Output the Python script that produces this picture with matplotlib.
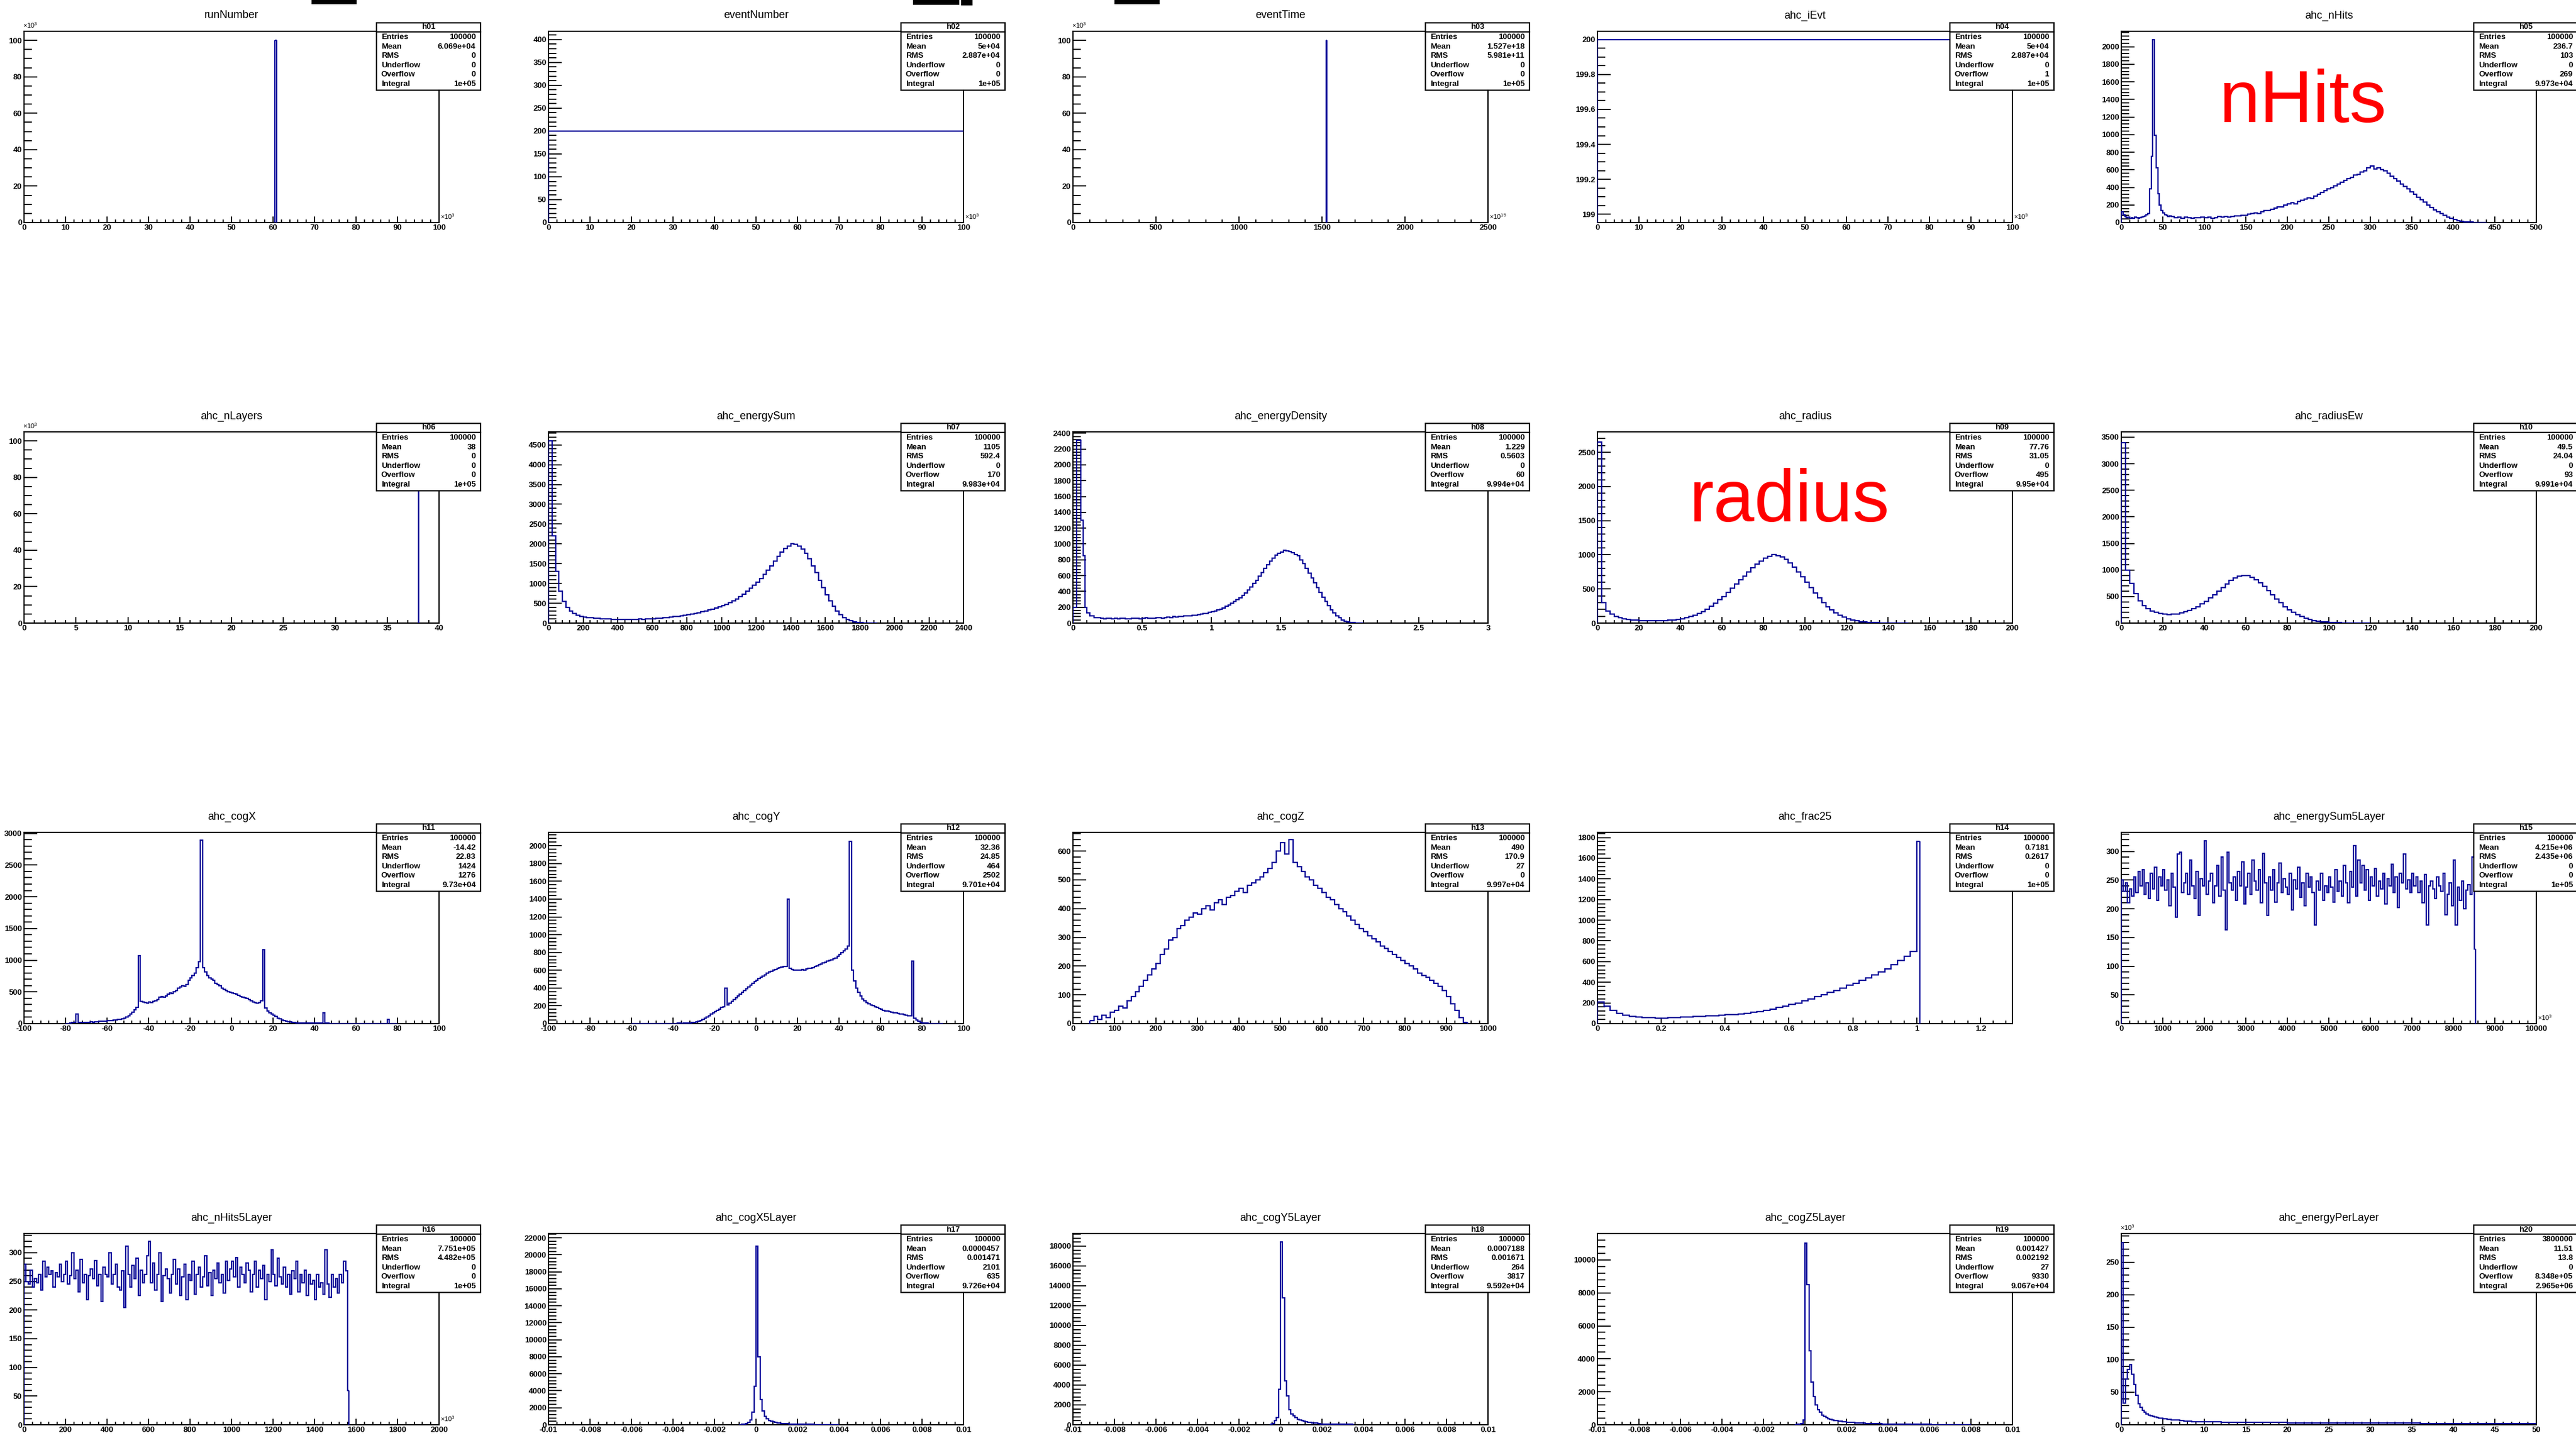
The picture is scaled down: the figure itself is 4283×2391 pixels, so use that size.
import numpy as np
import matplotlib
matplotlib.use("Agg")
import matplotlib.pyplot as plt
from matplotlib.patches import Rectangle
from matplotlib.lines import Line2D
from matplotlib.ticker import MultipleLocator, FuncFormatter

plt.rcParams['font.family'] = ['Liberation Sans', 'DejaVu Sans']
plt.rcParams['mathtext.fontset'] = 'custom'
plt.rcParams['mathtext.rm'] = 'Liberation Sans'
plt.rcParams['mathtext.it'] = 'Liberation Sans:italic'

# ======================= DATA =======================
titles = ["runNumber", "eventNumber", "eventTime", "ahc_iEvt", "ahc_nHits",
          "ahc_nLayers", "ahc_energySum", "ahc_energyDensity", "ahc_radius", "ahc_radiusEw",
          "ahc_cogX", "ahc_cogY", "ahc_cogZ", "ahc_frac25", "ahc_energySum5Layer",
          "ahc_nHits5Layer", "ahc_cogX5Layer", "ahc_cogY5Layer", "ahc_cogZ5Layer", "ahc_energyPerLayer"]
hnames = ["h01", "h02", "h03", "h04", "h05", "h06", "h07", "h08", "h09", "h10",
          "h11", "h12", "h13", "h14", "h15", "h16", "h17", "h18", "h19", "h20"]
stat_labels = ["Entries", "Mean", "RMS", "Underflow", "Overflow", "Integral"]
stats = [
    ["100000", "6.069e+04", "0", "0", "0", "1e+05"],
    ["100000", "5e+04", "2.887e+04", "0", "0", "1e+05"],
    ["100000", "1.527e+18", "5.981e+11", "0", "0", "1e+05"],
    ["100000", "5e+04", "2.887e+04", "0", "1", "1e+05"],
    ["100000", "236.7", "103", "0", "269", "9.973e+04"],
    ["100000", "38", "0", "0", "0", "1e+05"],
    ["100000", "1105", "592.4", "0", "170", "9.983e+04"],
    ["100000", "1.229", "0.5603", "0", "60", "9.994e+04"],
    ["100000", "77.76", "31.05", "0", "495", "9.95e+04"],
    ["100000", "49.5", "24.04", "0", "93", "9.991e+04"],
    ["100000", "-14.42", "22.83", "1424", "1276", "9.73e+04"],
    ["100000", "32.36", "24.85", "464", "2502", "9.701e+04"],
    ["100000", "490", "170.9", "27", "0", "9.997e+04"],
    ["100000", "0.7181", "0.2617", "0", "0", "1e+05"],
    ["100000", "4.215e+06", "2.435e+06", "0", "0", "1e+05"],
    ["100000", "7.751e+05", "4.482e+05", "0", "0", "1e+05"],
    ["100000", "0.0000457", "0.001471", "2101", "635", "9.726e+04"],
    ["100000", "0.0007188", "0.001671", "264", "3817", "9.592e+04"],
    ["100000", "0.001427", "0.002192", "27", "9330", "9.067e+04"],
    ["3800000", "11.51", "13.8", "0", "8.348e+05", "2.965e+06"],
]

# --- h01 runNumber (x in 1e3, y in 1e3)
run_edges = [60.5, 60.8]
run_counts = [100]
# --- h02 eventNumber
evn_edges = [0, 100]
evn_counts = [200]
# --- h03 eventTime (x in 1e15, y in 1e3)
evt_edges = [1526, 1528]
evt_counts = [100]
# --- h04 ahc_iEvt
iev_edges = [0, 100]
iev_counts = [200]
# --- h05 ahc_nHits
nhits_edges = np.concatenate([np.arange(0, 60, 2), np.arange(60, 441, 4)])
nhits_counts = [120, 90, 70, 55, 60, 50, 58, 45, 60, 52, 48, 55, 62, 70, 78, 90, 100, 380, 750, 2080,
                990, 620, 330, 200, 140, 110, 90, 80, 70, 75,
                65, 55, 60, 48, 62, 55, 50, 58, 52, 60,
                55, 62, 50, 58, 65, 60, 70, 62, 68, 75,
                72, 85, 80, 95, 100, 110, 105, 125, 140, 135,
                150, 165, 175, 180, 200, 210, 225, 215, 240, 255,
                270, 280, 275, 300, 320, 345, 360, 380, 400, 420,
                440, 460, 480, 500, 510, 540, 550, 575, 590, 620,
                640, 610, 625, 600, 590, 560, 530, 500, 470, 440,
                410, 380, 350, 320, 290, 260, 230, 200, 170, 145,
                120, 100, 80, 60, 45, 32, 22, 15, 10, 6,
                4, 3, 2, 1, 0]
# --- h06 ahc_nLayers (y in 1e3)
nlay_edges = [38.0, 38.04]
nlay_counts = [100]
# --- h07 ahc_energySum
esum_edges = np.arange(0, 1901, 20)
esum_counts = [4600, 2200, 1300, 800, 550, 400, 300, 250, 200, 170,
               150, 140, 130, 120, 115, 110, 105, 100, 98, 95,
               92, 90, 95, 88, 92, 95, 100, 98, 105, 110,
               112, 118, 125, 130, 140, 150, 160, 170, 185, 200,
               215, 230, 250, 265, 285, 305, 330, 355, 380, 410,
               440, 475, 510, 560, 610, 670, 730, 800, 880, 960,
               1040, 1130, 1230, 1340, 1450, 1560, 1680, 1790, 1880, 1950,
               2000, 1990, 1950, 1870, 1760, 1620, 1450, 1270, 1080, 900,
               720, 560, 420, 300, 210, 140, 90, 55, 30, 15,
               8, 4, 2, 1, 0]
# --- h08 ahc_energyDensity
eden_edges = np.concatenate([[0, 0.025, 0.055, 0.075, 0.085, 0.1, 0.12, 0.15, 0.2],
                             np.round(np.arange(0.22, 2.1001, 0.02), 3)])
eden_counts = [200, 2310, 1300, 850, 200, 130, 90, 70,
               60, 55, 58, 62, 55, 60, 52, 58, 63, 57, 55, 60, 58, 62, 56, 60, 65, 58, 62, 60,
               65, 70, 62, 72, 75, 70, 80, 78, 85, 82, 90, 88, 95, 100, 98, 110, 115, 120, 125, 135,
               145, 155, 165, 175, 190, 210, 230, 250, 270, 300, 320, 350, 380, 420, 460, 500, 540, 590, 640, 690,
               740, 780, 820, 860, 880, 900, 920, 910, 905, 890, 870, 850, 800, 750, 690, 630, 570, 510, 450, 390,
               330, 270, 220, 170, 130, 95, 65, 40, 25, 15, 8, 4, 2, 1, 0]
# --- h09 ahc_radius
rad_edges = np.arange(0, 151, 2)
rad_counts = [2650, 300, 180, 130, 100, 80, 65, 55, 48, 42,
              38, 35, 33, 32, 32, 34, 36, 40, 46, 55,
              65, 80, 95, 115, 140, 170, 205, 245, 290, 340,
              390, 450, 510, 570, 630, 690, 750, 810, 860, 910,
              950, 980, 1000, 990, 970, 930, 880, 820, 750, 680,
              600, 520, 440, 370, 300, 240, 190, 150, 115, 85,
              62, 45, 32, 22, 15, 10, 7, 5, 3, 2,
              1, 1, 0, 0, 0]
# --- h10 ahc_radiusEw
radw_edges = np.arange(0, 121, 2)
radw_counts = [3400, 1000, 750, 550, 420, 330, 270, 230, 200, 180,
               165, 160, 165, 175, 190, 210, 240, 270, 310, 360,
               410, 470, 530, 600, 670, 740, 800, 850, 880, 900,
               890, 860, 820, 760, 690, 610, 530, 450, 380, 310,
               250, 200, 155, 120, 90, 65, 48, 35, 25, 18,
               12, 8, 6, 4, 3, 2, 1, 1, 0, 0]
# --- h11 ahc_cogX
cogx_edges = np.arange(-80, 81, 1)
cogx_counts = [0, 0, 5, 15, 18, 150, 20, 18, 20, 22,
               22, 20, 25, 20, 24, 30, 35, 40, 38, 42,
               45, 48, 50, 55, 60, 62, 70, 80, 85, 100,
               120, 150, 180, 220, 260, 1070, 350, 340, 330, 320,
               340, 330, 350, 360, 380, 420, 430, 420, 440, 460,
               480, 470, 500, 520, 560, 580, 600, 590, 620, 680,
               720, 760, 800, 880, 980, 2890, 880, 820, 760, 720,
               700, 680, 640, 620, 600, 560, 540, 520, 500, 490,
               480, 470, 460, 450, 430, 420, 410, 400, 380, 360,
               340, 330, 320, 330, 360, 1170, 250, 200, 170, 150,
               130, 110, 90, 75, 60, 50, 40, 30, 25, 20,
               15, 12, 10, 10, 8, 8, 8, 7, 7, 6,
               6, 5, 5, 5, 170, 5, 5, 4, 3, 0,
               0, 0, 0, 0, 0, 0, 0, 0, 0, 0,
               0, 0, 0, 0, 0, 0, 0, 0, 0, 0,
               0, 0, 0, 0, 0, 70, 0, 0, 0, 0]
# --- h12 ahc_cogY
cogy_edges = np.arange(-60, 91, 1)
cogy_counts = [0, 0, 0, 0, 0, 0, 0, 0, 0, 0,
               0, 0, 2, 0, 0, 3, 0, 0, 2, 0,
               3, 0, 4, 5, 3, 6, 5, 8, 10, 12,
               15, 20, 25, 35, 45, 60, 75, 90, 105, 120,
               135, 150, 165, 180, 190, 400, 210, 230, 250, 270,
               290, 310, 330, 350, 370, 390, 410, 430, 450, 470,
               490, 505, 520, 535, 550, 565, 580, 590, 600, 610,
               620, 630, 635, 640, 645, 1400, 620, 610, 600, 600,
               600, 605, 610, 600, 615, 620, 625, 630, 640, 650,
               660, 670, 680, 690, 700, 710, 720, 730, 740, 760,
               780, 800, 820, 840, 870, 2050, 600, 480, 400, 350,
               310, 280, 260, 240, 225, 210, 200, 190, 180, 170,
               160, 150, 145, 140, 135, 130, 125, 120, 115, 110,
               105, 100, 95, 90, 85, 700, 60, 40, 25, 15,
               10, 6, 4, 3, 2, 1, 1, 0, 0, 0]
# --- h13 ahc_cogZ
cogz_edges = np.arange(40, 951, 10)
cogz_counts = [10, 25, 15, 30, 20, 40,
               45, 60, 55, 80, 95, 110, 130, 150, 170, 190,
               210, 240, 260, 290, 300, 330, 340, 360, 370, 385,
               380, 400, 410, 395, 420, 430, 415, 440, 445, 460,
               470, 455, 480, 490, 500, 510, 525, 540, 560, 600,
               630, 590, 640, 560, 545, 530, 510, 500, 480, 470,
               455, 440, 430, 415, 400, 390, 375, 360, 345, 330,
               320, 305, 295, 285, 270, 262, 250, 240, 230, 220,
               210, 200, 190, 175, 168, 160, 150, 140, 130, 115,
               95, 70, 45, 20, 5]
# --- h14 ahc_frac25
frac_edges = np.concatenate([np.round(np.arange(0, 1.0001, 0.02), 3), [1.01]])
frac_counts = [210, 170, 130, 100, 80, 70, 65, 60, 58, 55,
               55, 58, 60, 62, 65, 68, 70, 75, 78, 82,
               85, 90, 95, 100, 110, 118, 130, 140, 155, 170,
               185, 200, 220, 240, 260, 280, 300, 320, 345, 370,
               390, 420, 440, 470, 500, 530, 570, 610, 650, 700,
               1760]
# --- h15 ahc_energySum5Layer (x in 1e3)
es5_edges = np.concatenate([np.arange(0, 8501, 50), [8540]])
es5_counts = [250, 230, 245, 210, 235, 222, 255, 228, 265, 240,
              268, 225, 245, 218, 262, 235, 272, 215, 255, 240,
              268, 232, 250, 205, 262, 238, 185, 295, 298, 228,
              245, 262, 225, 285, 240, 218, 265, 188, 252, 240,
              318, 225, 248, 262, 210, 240, 275, 222, 290, 232,
              163, 298, 245, 232, 255, 215, 265, 240, 282, 208,
              238, 262, 225, 285, 248, 232, 268, 210, 296, 245,
              188, 255, 232, 268, 212, 245, 280, 228, 252, 238,
              225, 262, 198, 250, 235, 272, 220, 245, 205, 262,
              238, 255, 228, 172, 248, 232, 262, 215, 240, 228,
              255, 238, 212, 268, 230, 248, 222, 275, 245, 210,
              265, 238, 310, 222, 285, 245, 275, 232, 268, 215,
              255, 240, 270, 222, 248, 235, 262, 208, 252, 240,
              278, 228, 255, 202, 262, 245, 295, 235, 250, 228,
              262, 240, 255, 228, 248, 210, 260, 172, 240, 248,
              235, 218, 255, 240, 230, 262, 190, 225, 245, 205,
              285, 172, 238, 215, 248, 200, 232, 242, 225, 290,
              130]
# --- h16 ahc_nHits5Layer (x in 1e3)
nh5_edges = np.concatenate([np.arange(0, 1561, 10), [1566]])
nh5_counts = [280, 250, 245, 270, 240, 255, 248, 262, 235, 285,
              258, 275, 262, 268, 240, 265, 258, 280, 250, 262,
              285, 245, 260, 300, 255, 270, 232, 288, 248, 262,
              218, 260, 272, 255, 286, 242, 262, 215, 275, 262,
              258, 300, 245, 262, 280, 240, 235, 268, 205, 312,
              262, 240, 278, 255, 290, 225, 270, 248, 262, 295,
              320, 248, 282, 235, 262, 300, 215, 260, 272, 255,
              230, 262, 288, 245, 272, 226, 258, 280, 218, 262,
              252, 285, 228, 262, 275, 240, 258, 295, 242, 265,
              226, 270, 255, 282, 248, 262, 230, 285, 252, 272,
              285, 258, 292, 240, 275, 262, 248, 282, 270, 232,
              262, 285, 240, 270, 255, 278, 218, 262, 250, 305,
              262, 242, 290, 258, 245, 275, 240, 262, 228, 268,
              255, 285, 232, 262, 248, 270, 226, 262, 245, 252,
              218, 262, 240, 248, 228, 305, 245, 222, 262, 240,
              255, 230, 262, 248, 285, 268,
              60]
# --- h17 ahc_cogX5Layer
cx5_edges = np.round(np.arange(-8, 41) * 1e-4, 6)
cx5_counts = [20, 40, 80, 150, 300, 600, 1500, 4500,
              21000, 8000, 3000, 1600, 1000, 700, 500, 400, 320, 260,
              220, 190, 160, 140, 120, 110, 100, 90, 80, 75,
              70, 65, 60, 55, 50, 45, 40, 38, 35, 32,
              30, 28, 25, 22, 20, 18, 15, 12, 10, 8]
# --- h18 ahc_cogY5Layer
cy5_edges = np.round(np.arange(-5, 36) * 1e-4, 6)
cy5_counts = [50, 150, 400, 700, 3600,
              18400, 12800, 4400, 2900, 1500, 1100, 900, 700, 550, 500,
              450, 350, 280, 250, 220, 200, 180, 160, 100, 80,
              70, 70, 65, 65, 60, 60, 60, 55, 55, 55,
              50, 50, 50, 45, 45]
# --- h19 ahc_cogZ5Layer
cz5_edges = np.round(np.arange(-5, 81) * 1e-4, 6)
cz5_counts = [10, 20, 40, 80, 300,
              11000, 8500, 4500, 2600, 1700, 1200, 900, 750, 600, 500,
              420, 380, 340, 300, 270, 250, 230, 210, 190, 170,
              160, 150, 140, 130, 120, 112, 105, 98, 92, 86,
              80, 75, 70, 66, 62, 58, 55, 52, 49, 46,
              44, 42, 40, 38, 36, 34, 33, 32, 31, 30,
              29, 28, 27, 26, 25, 24, 23, 22, 21, 20,
              19, 18, 17, 16, 15, 15, 14, 14, 13, 13,
              12, 12, 11, 11, 10, 10, 9, 9, 8, 8]
# --- h20 ahc_energyPerLayer (y in 1e3)
epl_edges = np.concatenate([np.arange(0, 5.01, 0.25), np.arange(5.5, 10.01, 0.5), np.arange(11, 50.5, 1)])
epl_counts = [280, 33, 70, 85, 92, 78, 62, 45, 32, 27, 22, 19, 17, 15, 14, 13, 12, 11, 10.5, 10,
              9, 8.5, 7.5, 7, 6.5, 6, 5.5, 5, 4.8, 4.6,
              4.4, 4.2, 4.0, 3.9, 3.8, 3.7, 3.6, 3.5, 3.4, 3.3,
              3.2, 3.1, 3.0, 2.95, 2.9, 2.85, 2.8, 2.75, 2.7, 2.65,
              2.6, 2.55, 2.5, 2.45, 2.4, 2.35, 2.3, 2.25, 2.2, 2.15,
              2.1, 2.05, 2.0, 1.95, 1.9, 1.85, 1.8, 1.75, 1.7, 1.65]

hist_edges = [run_edges, evn_edges, evt_edges, iev_edges, nhits_edges,
              nlay_edges, esum_edges, eden_edges, rad_edges, radw_edges,
              cogx_edges, cogy_edges, cogz_edges, frac_edges, es5_edges,
              nh5_edges, cx5_edges, cy5_edges, cz5_edges, epl_edges]
hist_counts = [run_counts, evn_counts, evt_counts, iev_counts, nhits_counts,
               nlay_counts, esum_counts, eden_counts, rad_counts, radw_counts,
               cogx_counts, cogy_counts, cogz_counts, frac_counts, es5_counts,
               nh5_counts, cx5_counts, cy5_counts, cz5_counts, epl_counts]

# axis settings: xlim, ylim, x major, x minor, y major, y minor, x exponent, y exponent
axis_cfg = [
    ((0, 100), (0, 105), 10, 2, 20, 5, "3", "3"),
    ((0, 100), (0, 418), 10, 2, 50, 10, "3", None),
    ((0, 2500), (0, 105), 500, 100, 20, 5, "15", "3"),
    ((0, 100), (198.952, 200.048), 10, 2, 0.2, 0.05, "3", None),
    ((0, 500), (0, 2175), 50, 10, 200, 40, None, None),
    ((0, 40), (0, 105), 5, 1, 20, 5, None, "3"),
    ((0, 2400), (0, 4830), 200, 40, 500, 100, None, None),
    ((0, 3), (0, 2418), 0.5, 0.1, 200, 40, None, None),
    ((0, 200), (0, 2800), 20, 4, 500, 100, None, None),
    ((0, 200), (0, 3600), 20, 4, 500, 100, None, None),
    ((-100, 100), (0, 3016), 20, 4, 500, 100, None, None),
    ((-100, 100), (0, 2150), 20, 4, 200, 40, None, None),
    ((0, 1000), (0, 665), 100, 20, 100, 20, None, None),
    ((0, 1.3), (0, 1850), 0.2, 0.04, 200, 40, None, None),
    ((0, 10000), (0, 333), 1000, 200, 50, 10, "3", None),
    ((0, 2000), (0, 333.5), 200, 40, 50, 10, "3", None),
    ((-0.01, 0.01), (0, 22500), 0.002, 0.0004, 2000, 400, None, None),
    ((-0.01, 0.01), (0, 19271), 0.002, 0.0004, 2000, 400, None, None),
    ((-0.01, 0.01), (0, 11600), 0.002, 0.0004, 2000, 400, None, None),
    ((0, 50), (0, 294), 5, 1, 50, 10, None, "3"),
]

# big red annotations: text, panel index
red_labels = [("nHits", 4), ("radius", 8)]

# ======================= LAYOUT =======================
W, H = 4283, 2391
DPI = 100
COL_LEFT = [40, 912, 1784, 2656, 3527]
ROW_TOP = [52, 718, 1384, 2051]
AX_W, AX_H = 690, 318
BLUE = '#000099'
LW = 1.6

fig = plt.figure(figsize=(W / DPI, H / DPI), dpi=DPI)
fig.patch.set_facecolor('white')


def fx(x):
    return x / W


def fy(y):
    return 1 - y / H


def fmt_tick(v, pos):
    s = '%.6g' % round(v, 9)
    if s == '-0':
        s = '0'
    return s


for i in range(20):
    r, c = divmod(i, 5)
    L, T = COL_LEFT[c], ROW_TOP[r]
    xlim, ylim, xmaj, xmin, ymaj, ymin, xexp, yexp = axis_cfg[i]
    ax = fig.add_axes([fx(L), fy(T + AX_H), AX_W / W, AX_H / H])
    edges = np.asarray(hist_edges[i], dtype=float)
    counts = np.asarray(hist_counts[i], dtype=float)
    # ROOT-like outline: tops + inner steps, rise from 0 at first edge, drop at last edge
    ax.stairs(counts, edges, baseline=None, color=BLUE, lw=LW, zorder=3)
    ax.vlines(edges[0], 0, counts[0], color=BLUE, lw=LW, zorder=3)
    if edges[-1] < xlim[1]:
        ax.vlines(edges[-1], 0, counts[-1], color=BLUE, lw=LW, zorder=3)
    ax.set_xlim(*xlim)
    ax.set_ylim(*ylim)
    ax.xaxis.set_major_locator(MultipleLocator(xmaj))
    ax.xaxis.set_minor_locator(MultipleLocator(xmin))
    ax.yaxis.set_major_locator(MultipleLocator(ymaj))
    ax.yaxis.set_minor_locator(MultipleLocator(ymin))
    ax.xaxis.set_major_formatter(FuncFormatter(fmt_tick))
    ax.yaxis.set_major_formatter(FuncFormatter(fmt_tick))
    ax.tick_params(which='both', direction='in', top=False, right=False, width=1.3, colors='black')
    ax.tick_params(axis='x', which='major', length=7.2, labelsize=9.5, pad=2)
    ax.tick_params(axis='x', which='minor', length=3.6)
    ax.tick_params(axis='y', which='major', length=15.8, labelsize=9.5, pad=2.5)
    ax.tick_params(axis='y', which='minor', length=9.0)
    for lab in ax.get_xticklabels() + ax.get_yticklabels():
        lab.set_fontweight('bold')
    for sp in ax.spines.values():
        sp.set_linewidth(1.5)
    ax.set_facecolor('white')

    # title
    fig.text(fx(L + AX_W / 2), fy(T - 26), titles[i], ha='center', va='center', fontsize=13)

    # exponents
    if xexp:
        fig.text(fx(L + AX_W + 2), fy(T + AX_H - 3), r'$\times10^{%s}$' % xexp,
                 ha='left', va='bottom', fontsize=8)
    if yexp:
        fig.text(fx(L - 2), fy(T - 3), r'$\times10^{%s}$' % yexp,
                 ha='left', va='bottom', fontsize=8)

    # stats box
    bl, br = L + AX_W - 104, L + AX_W + 69
    bt, bb = T - 14, T + 98
    fig.add_artist(Rectangle((fx(bl), fy(bb)), (br - bl) / W, (bb - bt) / H,
                             transform=fig.transFigure, facecolor='white',
                             edgecolor='black', lw=1.6, zorder=10))
    fig.add_artist(Line2D([fx(bl), fx(br)], [fy(T + 1), fy(T + 1)],
                          transform=fig.transFigure, color='black', lw=1.6, zorder=11))
    fig.text(fx((bl + br) / 2), fy(T - 6.5), hnames[i], ha='center', va='center',
             fontsize=9.5, fontweight='bold', zorder=12)
    for k, (lab, val) in enumerate(zip(stat_labels, stats[i])):
        yy = fy(T + 10 + 15.6 * k)
        fig.text(fx(bl + 8), yy, lab, ha='left', va='center', fontsize=9.5,
                 fontweight='bold', zorder=12)
        fig.text(fx(br - 8), yy, val, ha='right', va='center', fontsize=9.5,
                 fontweight='bold', zorder=12)

# big red annotations
red_pos = {4: (3829, 203), 8: (2975, 867)}
for txt, idx in red_labels:
    x0, y0 = red_pos[idx]
    fig.text(fx(x0), fy(y0), txt, ha='center', va='baseline', fontsize=88, color='red', zorder=13)

# black artefacts at top edge
for (x0, y0, w0, h0) in [(518, 0, 75, 7), (1518, 0, 77, 8), (1598, 0, 19, 9), (1853, 0, 75, 7)]:
    fig.add_artist(Rectangle((fx(x0), fy(y0 + h0)), w0 / W, h0 / H, transform=fig.transFigure,
                             facecolor='black', edgecolor='none', zorder=14))

fig.savefig("out.png", dpi=DPI)
